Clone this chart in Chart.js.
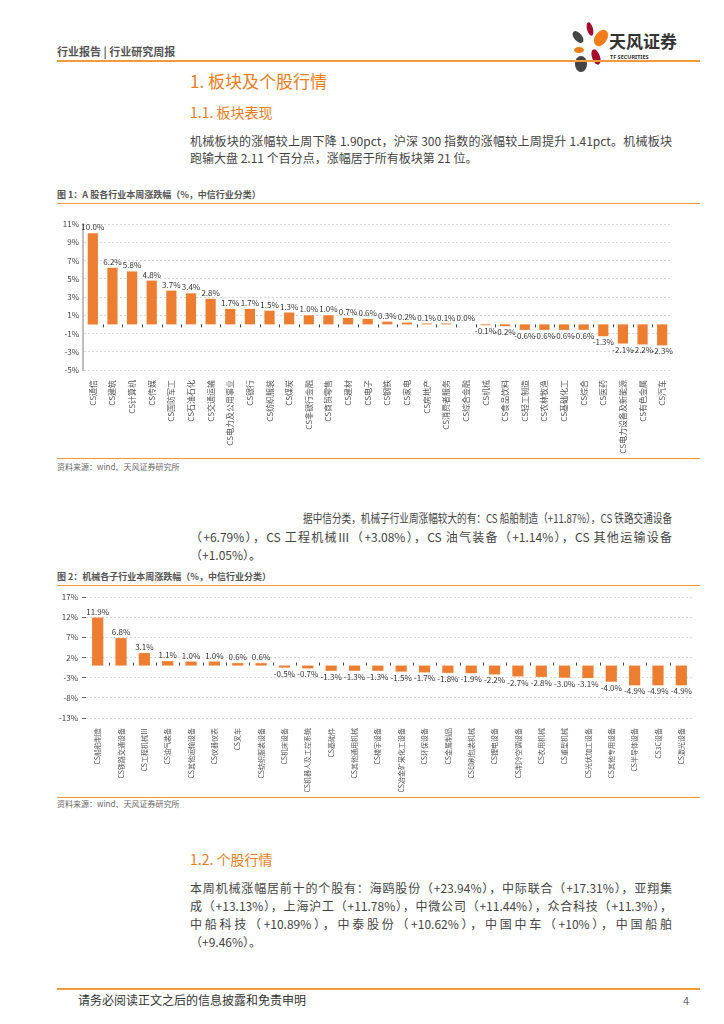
<!DOCTYPE html>
<html>
<head>
<meta charset="utf-8">
<script src="https://cdn.jsdelivr.net/npm/chart.js@4.4.1/dist/chart.umd.min.js"></script>
<style>
  body { margin: 0; background: #fff; font-family: "Noto Sans CJK SC", "Noto Sans", sans-serif; }
  #page { position: relative; width: 724px; height: 1024px; overflow: hidden; }
  .t { position: absolute; white-space: nowrap; line-height: 1; }
  .hr { position: absolute; left: 57px; width: 643px; background: #F39A3C; }
  .para { position: absolute; left: 190px; width: 482px; font-size: 12px; color: #444; line-height: 1; text-align: justify; text-align-last: justify; white-space: nowrap; }
  .cap { font-size: 9px; font-weight: bold; color: #555; left: 57px; }
  .src { font-size: 8px; color: #666; left: 57px; }
  canvas { position: absolute; }
</style>
</head>
<body>
<div id="page">
  <div class="t" style="left:57px;top:46px;font-size:11px;color:#555;font-weight:bold;">行业报告 | 行业研究周报</div>
  <svg style="position:absolute;left:566px;top:20px;" width="140" height="56">
    <ellipse cx="24" cy="9" rx="3" ry="7" fill="#A50F2D" transform="rotate(-15 24 9)"/>
    <ellipse cx="35" cy="18" rx="6" ry="9" fill="#EE7D1A" transform="rotate(35 35 18)"/>
    <ellipse cx="12" cy="17" rx="4" ry="7" fill="#444" transform="rotate(-40 12 17)"/>
    <ellipse cx="13" cy="30" rx="5" ry="3" fill="#EE7D1A"/>
    <ellipse cx="30" cy="37" rx="4" ry="8" fill="#A50F2D" transform="rotate(-20 30 37)"/>
    <ellipse cx="15" cy="44" rx="6" ry="8" fill="#444"/>
    <text x="43" y="28" font-size="17" font-weight="bold" fill="#333" font-family="Noto Sans CJK SC">天风证券</text>
    <text x="44" y="39" font-size="5.5" font-weight="bold" fill="#333" font-family="Noto Sans">TF SECURITIES</text>
  </svg>
  <div class="hr" style="top:60px;height:2px;"></div>

  <div class="t" style="left:190px;top:72px;font-size:17px;color:#EE7D1A;">1. 板块及个股行情</div>
  <div class="t" style="left:190px;top:105px;font-size:14px;color:#EE7D1A;">1.1. 板块表现</div>
  <div class="para" style="top:135px;">机械板块的涨幅较上周下降 1.90pct，沪深 300 指数的涨幅较上周提升 1.41pct。机械板块</div>
  <div class="t" style="left:190px;top:152px;font-size:12px;color:#444;">跑输大盘 2.11 个百分点，涨幅居于所有板块第 21 位。</div>

  <div class="t cap" style="top:190px;">图 1：A 股各行业本周涨跌幅（%，中信行业分类）</div>
  <div class="hr" style="top:203px;height:1px;"></div>
  <canvas id="c1" width="640" height="244" style="left:50px;top:214px;"></canvas>
  <div class="hr" style="top:458px;height:1px;"></div>
  <div class="t src" style="top:463px;">资料来源：wind、天风证券研究所</div>

  <div id="fitLine" class="t" style="left:303px;top:512px;font-size:12px;color:#444;transform-origin:0 0;">据中信分类，机械子行业周涨幅较大的有：CS 船舶制造（+11.87%），CS 铁路交通设备</div>
  <div class="para" style="top:531px;">（+6.79%），CS 工程机械Ⅲ（+3.08%），CS 油气装备（+1.14%），CS 其他运输设备</div>
  <div class="t" style="left:190px;top:549px;font-size:12px;color:#444;">（+1.05%）。</div>

  <div class="t cap" style="top:572px;">图 2：机械各子行业本周涨跌幅（%，中信行业分类）</div>
  <div class="hr" style="top:585px;height:1px;"></div>
  <canvas id="c2" width="655" height="208" style="left:50px;top:588px;"></canvas>
  <div class="hr" style="top:797px;height:1px;"></div>
  <div class="t src" style="top:800px;">资料来源：wind、天风证券研究所</div>

  <div class="t" style="left:190px;top:852px;font-size:14px;color:#EE7D1A;">1.2. 个股行情</div>
  <div class="para" style="top:882px;">本周机械涨幅居前十的个股有：海鸥股份（+23.94%），中际联合（+17.31%），亚翔集</div>
  <div class="para" style="top:900px;">成（+13.13%），上海沪工（+11.78%），中微公司（+11.44%），众合科技（+11.3%），</div>
  <div class="para" style="top:918px;">中船科技（+10.89%），中泰股份（+10.62%），中国中车（+10%），中国船舶</div>
  <div class="t" style="left:190px;top:936px;font-size:12px;color:#444;">（+9.46%）。</div>

  <div class="hr" style="top:988px;height:2px;"></div>
  <div class="t" style="left:78px;top:994px;font-size:12px;color:#333;">请务必阅读正文之后的信息披露和免责申明</div>
  <div class="t" style="left:683px;top:995px;font-size:11px;color:#666;">4</div>
</div>

<script>
// 图1 A股各行业本周涨跌幅
const industries = ['CS通信','CS建筑','CS计算机','CS传媒','CS国防军工','CS石油石化','CS交通运输','CS电力及公用事业','CS银行','CS纺织服装',
  'CS煤炭','CS非银行金融','CS商贸零售','CS建材','CS电子','CS钢铁','CS家电','CS房地产','CS消费者服务','CS综合金融',
  'CS机械','CS食品饮料','CS轻工制造','CS农林牧渔','CS基础化工','CS综合','CS医药','CS电力设备及新能源','CS有色金属','CS汽车'];
const industryChg = [10.0, 6.2, 5.8, 4.8, 3.7, 3.4, 2.8, 1.7, 1.7, 1.5,
  1.3, 1.0, 1.0, 0.7, 0.6, 0.3, 0.2, 0.1, 0.1, 0.0,
  -0.1, -0.2, -0.6, -0.6, -0.6, -0.6, -1.3, -2.1, -2.2, -2.3];

// 图2 机械各子行业本周涨跌幅
const subIndustries = ['CS船舶制造','CS铁路交通设备','CS工程机械Ⅲ','CS油气装备','CS其他运输设备','CS仪器仪表','CS叉车','CS纺织服装设备','CS机床设备','CS机器人及工控系统',
  'CS基础件','CS其他通用机械','CS楼宇设备','CS冶金矿采化工设备','CS环保设备','CS金属制品','CS印刷包装机械','CS锂电设备','CS制冷空调设备','CS农用机械',
  'CS重型机械','CS光伏加工设备','CS其他专用设备','CS半导体设备','CS3C设备','CS激光设备'];
const subChg = [11.9, 6.8, 3.1, 1.1, 1.0, 1.0, 0.6, 0.6, -0.5, -0.7,
  -1.3, -1.3, -1.3, -1.5, -1.7, -1.8, -1.9, -2.2, -2.7, -2.8,
  -3.0, -3.1, -4.0, -4.9, -4.9, -4.9];

const FONT = '"Noto Sans CJK SC", sans-serif';
const ORANGE = '#ED7D31';

// 段落首行压缩到 303-672
const fit = document.getElementById('fitLine');
fit.style.transform = 'scaleX(' + (369 / fit.scrollWidth) + ')';

// 数值标签 + 零轴分隔刻度
const valueLabels = {
  id: 'valueLabels',
  afterDatasetsDraw(chart, args, opts) {
    const ctx = chart.ctx;
    const meta = chart.getDatasetMeta(0);
    const vals = chart.data.datasets[0].data;
    const xs = chart.scales.x, ys = chart.scales.y;
    const y0 = ys.getPixelForValue(0);
    ctx.save();
    ctx.font = '8px ' + FONT;
    ctx.fillStyle = '#333';
    ctx.textAlign = 'center';
    meta.data.forEach((bar, i) => {
      const v = vals[i];
      const txt = v.toFixed(1) + '%';
      if (v >= 0) {
        ctx.textBaseline = 'bottom';
        ctx.fillText(txt, bar.x, bar.y - 2);
      } else {
        ctx.textBaseline = 'top';
        ctx.fillText(txt, bar.x, bar.y + 2);
      }
    });
    ctx.strokeStyle = '#444';
    ctx.lineWidth = 1;
    for (let i = 1; i < vals.length; i++) {
      const x = Math.round((xs.getPixelForValue(i - 1) + xs.getPixelForValue(i)) / 2) + 0.5;
      ctx.beginPath();
      ctx.moveTo(x, y0);
      ctx.lineTo(x, y0 + opts.dir * 3);
      ctx.stroke();
    }
    ctx.restore();
  }
};

function makeChart(id, labels, data, o) {
  return new Chart(document.getElementById(id), {
    type: 'bar',
    data: {
      labels: labels,
      datasets: [{
        data: data,
        backgroundColor: ORANGE,
        barPercentage: o.barPct,
        categoryPercentage: 1
      }]
    },
    options: {
      responsive: false,
      animation: false,
      layout: { padding: { top: o.padTop, right: o.padRight, left: 0, bottom: 0 } },
      plugins: {
        legend: { display: false },
        tooltip: { enabled: false },
        valueLabels: { dir: o.dir }
      },
      scales: {
        x: {
          grid: { display: false },
          border: { display: false },
          ticks: {
            color: '#555',
            font: { size: o.xFont, family: FONT },
            autoSkip: false,
            maxRotation: 90,
            minRotation: 90,
            padding: 2
          },
          afterFit(s) { s.height = o.xHeight; }
        },
        y: {
          min: o.min,
          max: o.max,
          ticks: {
            stepSize: o.step,
            color: '#444',
            font: { size: 8, family: FONT },
            padding: 4,
            callback: v => v + '%'
          },
          grid: {
            color: '#d9d9d9',
            drawTicks: o.yTicks,
            tickLength: 4,
            tickColor: '#666'
          },
          border: { display: o.yBorder, color: '#bfbfbf', width: 2, dash: [2, 2] },
          afterFit(s) { s.width = o.yWidth; }
        }
      }
    },
    plugins: [valueLabels]
  });
}

makeChart('c1', industries, industryChg, {
  barPct: 0.52, padTop: 10, padRight: 18, xHeight: 88, yWidth: 33, xFont: 8,
  min: -5, max: 11, step: 2, dir: 1, yTicks: false, yBorder: true
});

makeChart('c2', subIndustries, subChg, {
  barPct: 0.48, padTop: 9, padRight: 12, xHeight: 78, yWidth: 36, xFont: 7,
  min: -13, max: 17, step: 5, dir: -1, yTicks: true, yBorder: false
});
</script>
</body>
</html>
